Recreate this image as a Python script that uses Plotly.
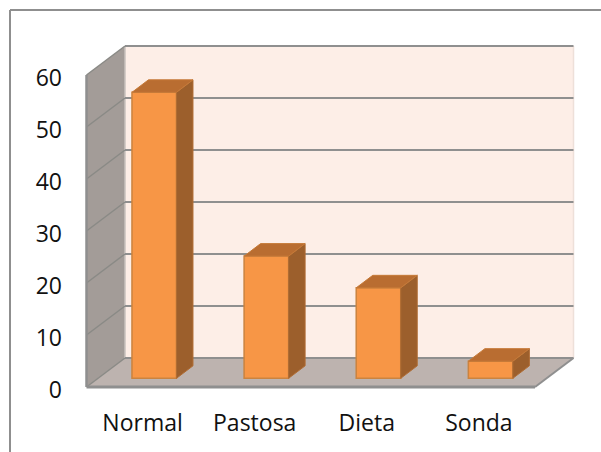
import plotly.graph_objects as go

# data
categories = ["Normal", "Pastosa", "Dieta", "Sonda"]
values = [55, 23.5, 17.4, 3.3]
y_ticks = [0, 10, 20, 30, 40, 50, 60]

# page geometry (pixels), used only to calibrate the axes
W, H = 601, 452
FRONT_L, FRONT_R, ZERO_Y = 86.5, 535.0, 387.0
PX_CAT = (FRONT_R - FRONT_L) / len(categories)
PX_VAL = 5.2
LABEL_NUDGE = 3.0  # tick labels sit slightly below their gridline ends
x_range = [-0.5 - FRONT_L / PX_CAT, -0.5 + (W - FRONT_L) / PX_CAT]
y_range = [-(H - ZERO_Y) / PX_VAL, ZERO_Y / PX_VAL]
y2_range = [y_range[0] + LABEL_NUDGE / PX_VAL, y_range[1] + LABEL_NUDGE / PX_VAL]

# 3D look, in data units
WALL_DX, WALL_DY = 38.5 / PX_CAT, 29 / PX_VAL
BAR_SHIFT, BAR_BASE = 0.104, 1.67
BAR_W = 44.5 / PX_CAT
SIDE_DX, SIDE_DY = 16.5 / PX_CAT, 12.5 / PX_VAL
XL, XR = -0.5, len(categories) - 0.5
TOP = max(y_ticks)
GRID = "#8f8f8f"


def poly(pts, fill, line=None, lw=0):
    d = "M " + " L ".join(f"{x},{y}" for x, y in pts) + " Z"
    return dict(type="path", path=d, xref="x", yref="y", layer="below",
                fillcolor=fill, line=dict(color=line or fill, width=lw))


def seg(x0, y0, x1, y1, color=GRID, w=2):
    return dict(type="line", x0=x0, y0=y0, x1=x1, y1=y1, xref="x", yref="y",
                layer="below", line=dict(color=color, width=w))


shapes = [
    poly([(XL + WALL_DX, WALL_DY), (XR + WALL_DX, WALL_DY),
          (XR + WALL_DX, TOP + WALL_DY), (XL + WALL_DX, TOP + WALL_DY)], "#fdeee7"),
    poly([(XL, 0), (XL + WALL_DX, WALL_DY), (XL + WALL_DX, TOP + WALL_DY), (XL, TOP)], "#a39c98"),
    poly([(XL, 0), (XR, 0), (XR + WALL_DX, WALL_DY), (XL + WALL_DX, WALL_DY)], "#bdb3af"),
    seg(XR + WALL_DX, WALL_DY, XR + WALL_DX, TOP + WALL_DY, "#eee0d9", 1.5),
    seg(XL + WALL_DX, WALL_DY, XL + WALL_DX, TOP + WALL_DY, "#c9c2be", 1.5),
]
for t in y_ticks:
    shapes.append(seg(XL + WALL_DX, t + WALL_DY, XR + WALL_DX, t + WALL_DY))
    shapes.append(seg(XL, t, XL + WALL_DX, t + WALL_DY, "#8a8a86", 1.5))
shapes += [
    seg(XL, 0, XL, TOP, GRID, 2.5),
    seg(XL, 0, XR, 0, GRID, 3),
    seg(XR, 0, XR + WALL_DX, WALL_DY, GRID, 2),
    # outer frame, open at the right and the bottom
    dict(type="line", xref="paper", yref="paper", x0=10 / W, x1=1, y0=1 - 10 / H, y1=1 - 10 / H,
         line=dict(color="#8f8f8f", width=2)),
    dict(type="line", xref="paper", yref="paper", x0=10 / W, x1=10 / W, y0=0, y1=1 - 10 / H,
         line=dict(color="#8f8f8f", width=2)),
]

fig = go.Figure()
fig.add_trace(go.Bar(
    x=[i + BAR_SHIFT for i in range(len(categories))], y=values,
    base=[BAR_BASE] * len(values), width=BAR_W,
    marker=dict(color="#f79646", line=dict(color="#cb833f", width=1.5)),
))
for i, v in enumerate(values):
    x0 = i + BAR_SHIFT - BAR_W / 2
    x1 = i + BAR_SHIFT + BAR_W / 2
    b, t = BAR_BASE, BAR_BASE + v
    fig.add_trace(go.Scatter(
        x=[x1, x1 + SIDE_DX, x1 + SIDE_DX, x1, x1],
        y=[b, b + SIDE_DY, t + SIDE_DY, t, b],
        mode="lines", fill="toself", fillcolor="#9c5f2c",
        line=dict(color="#b06c33", width=1), cliponaxis=False))
    fig.add_trace(go.Scatter(
        x=[x0, x1, x1 + SIDE_DX, x0 + SIDE_DX, x0],
        y=[t, t, t + SIDE_DY, t + SIDE_DY, t],
        mode="lines", fill="toself", fillcolor="#b96d31",
        line=dict(color="#c67a38", width=1), cliponaxis=False))

# invisible trace that carries the value axis used for the tick labels
fig.add_trace(go.Scatter(x=[0] * len(y_ticks), y=y_ticks, yaxis="y2", mode="none", showlegend=False))

font = dict(family="Open Sans", size=23, color="#111111")
fig.update_layout(
    width=W, height=H, margin=dict(l=0, r=0, t=0, b=0),
    paper_bgcolor="white", plot_bgcolor="white", showlegend=False,
    hovermode=False, shapes=shapes,
    xaxis=dict(range=x_range, domain=[0, 1], anchor="free", position=1 - 407 / H,
               tickmode="array", tickvals=list(range(len(categories))), ticktext=categories,
               showgrid=False, zeroline=False, showline=False, ticks="", tickfont=font),
    yaxis=dict(range=y_range, domain=[0, 1], visible=False),
    yaxis2=dict(range=y2_range, domain=[0, 1], overlaying="y", anchor="free", position=62 / W, side="left",
                tickmode="array", tickvals=y_ticks,
                showgrid=False, zeroline=False, showline=False, ticks="", tickfont=font),
)
fig.write_html("out.html", post_script="document.body.style.margin='0';window.dispatchEvent(new Event('resize'));",
               config=dict(displayModeBar=False))
